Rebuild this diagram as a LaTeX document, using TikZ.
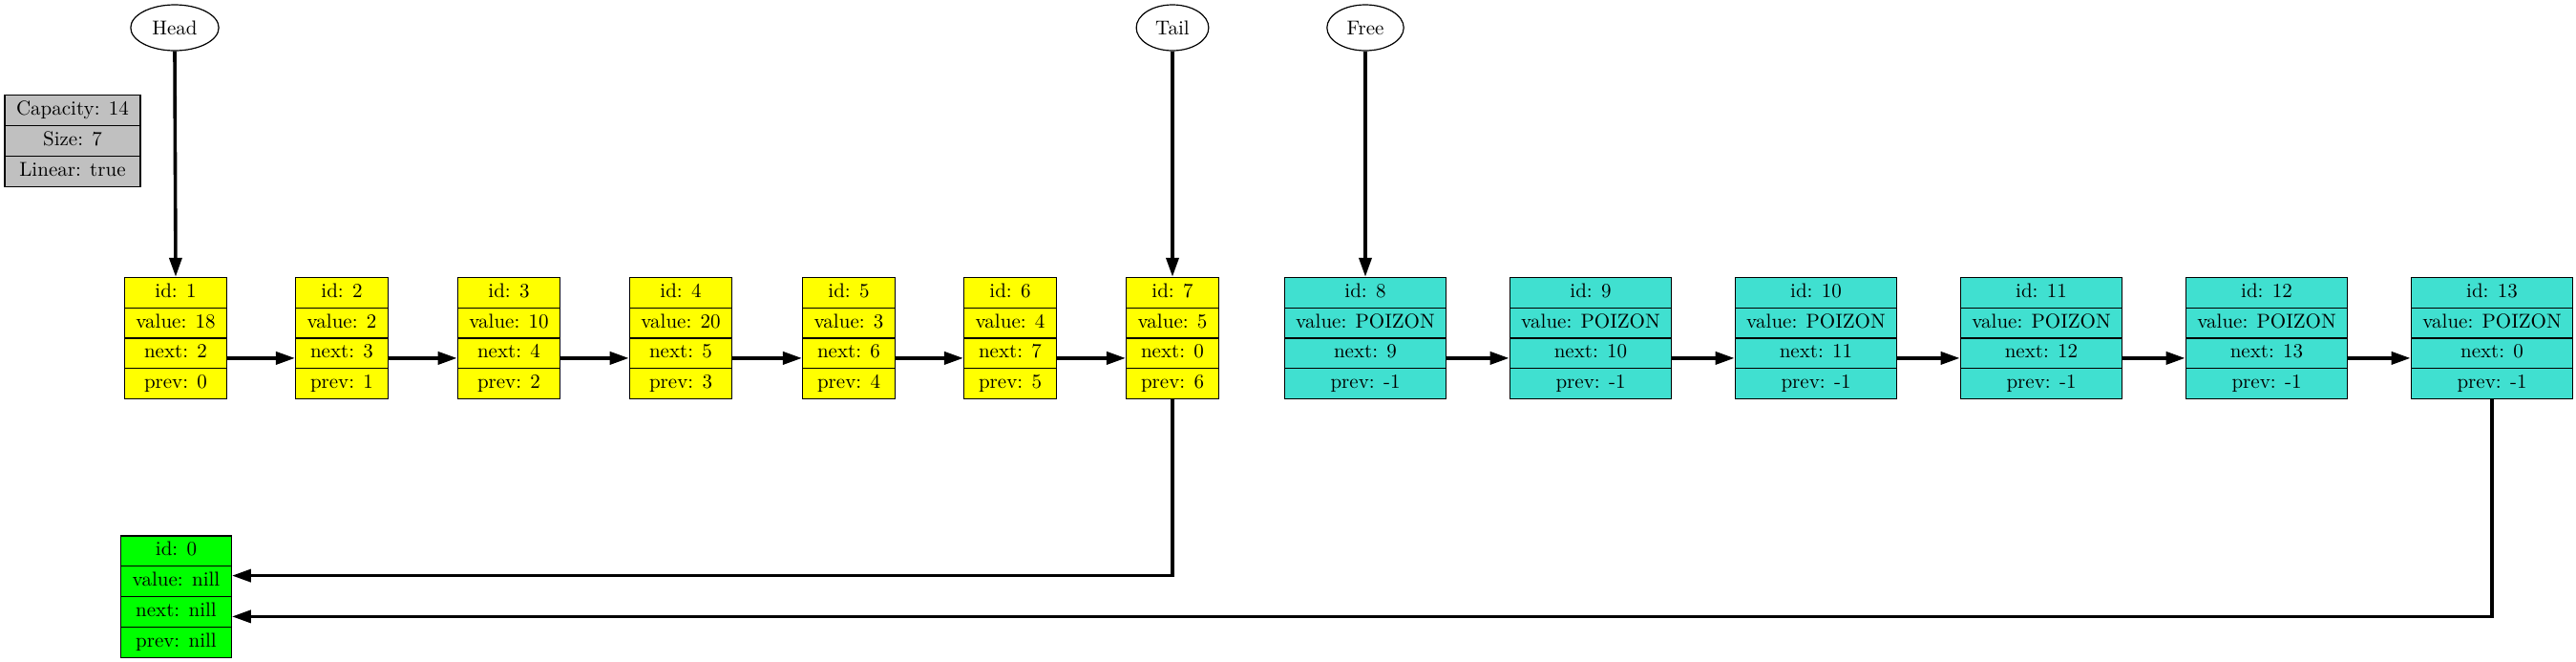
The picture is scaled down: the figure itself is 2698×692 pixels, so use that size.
\documentclass[tikz,border=0pt]{standalone}
\usepackage{xcolor}
\usepackage{tikz}
\usetikzlibrary{shapes.geometric, shapes.multipart, arrows.meta, positioning}
\definecolor{busyyellow}{RGB}{255,255,0}
\definecolor{freeturq}{RGB}{64,224,208}
\definecolor{nullgreen}{RGB}{0,255,0}
\definecolor{infogray}{RGB}{192,192,192}
\newcommand{\fields}[4]{#1\strut\nodepart{two}#2\strut\nodepart{three}#3\strut\nodepart{four}#4\strut}

\begin{document}
\begin{tikzpicture}[
    x=0.5pt, y=-0.5pt,
    font=\fontsize{10.5}{12.6}\selectfont,
    rec/.style={rectangle split, rectangle split parts=4, draw, line width=0.6pt, inner xsep=6pt, inner ysep=1.35pt},
    busycell/.style={rec, fill=busyyellow},
    freecell/.style={rec, fill=freeturq},
    nullcell/.style={rec, fill=nullgreen},
    ptr/.style={ellipse, draw, line width=0.6pt, minimum height=24pt, inner xsep=4.5pt},
    link/.style={line width=1.8pt, -{Triangle[length=10pt,width=6.5pt]}}
]
\useasboundingbox (0,0) rectangle (2698,692);

\node[rectangle split, rectangle split parts=3, draw, line width=0.6pt, fill=infogray, inner xsep=6pt, inner ysep=1.35pt] (info) at (76,147.5)
    {Capacity: 14\strut\nodepart{two}Size: 7\strut\nodepart{three}Linear: true\strut};

\node[ptr] (head) at (183,29) {Head};
\node[ptr] (tail) at (1228,29) {Tail};
\node[ptr] (free) at (1430,29) {Free};

\node[busycell] (n1) at (184,354) {\fields{id: 1}{value: 18}{next: 2}{prev: 0}};
\node[busycell] (n2) at (358,354) {\fields{id: 2}{value: 2}{next: 3}{prev: 1}};
\node[busycell] (n3) at (533,354) {\fields{id: 3}{value: 10}{next: 4}{prev: 2}};
\node[busycell] (n4) at (713,354) {\fields{id: 4}{value: 20}{next: 5}{prev: 3}};
\node[busycell] (n5) at (889,354) {\fields{id: 5}{value: 3}{next: 6}{prev: 4}};
\node[busycell] (n6) at (1058,354) {\fields{id: 6}{value: 4}{next: 7}{prev: 5}};
\node[busycell] (n7) at (1228,354) {\fields{id: 7}{value: 5}{next: 0}{prev: 6}};

\node[freecell] (n8) at (1430,354) {\fields{id: 8}{value: POIZON}{next: 9}{prev: -1}};
\node[freecell] (n9) at (1666,354) {\fields{id: 9}{value: POIZON}{next: 10}{prev: -1}};
\node[freecell] (n10) at (1902,354) {\fields{id: 10}{value: POIZON}{next: 11}{prev: -1}};
\node[freecell] (n11) at (2138,354) {\fields{id: 11}{value: POIZON}{next: 12}{prev: -1}};
\node[freecell] (n12) at (2374,354) {\fields{id: 12}{value: POIZON}{next: 13}{prev: -1}};
\node[freecell] (n13) at (2610,354) {\fields{id: 13}{value: POIZON}{next: 0}{prev: -1}};

\node[nullcell] (n0) at (184.5,624.5) {\fields{id: 0}{value: nill}{next: nill}{prev: nill}};

\draw[link] (head.south) -- (n1.north);
\draw[link] (tail.south) -- (n7.north);
\draw[link] (free.south) -- (n8.north);

\foreach \a/\b in {1/2, 2/3, 3/4, 4/5, 5/6, 6/7, 8/9, 9/10, 10/11, 11/12, 12/13}
    \draw[link] ([yshift=-2.5pt]n\a.three east) -- ([yshift=-2.5pt]n\b.three west);

\draw[link] (n7.south) |- ([yshift=3pt]n0.two east);
\draw[link] (n13.south) |- ([yshift=-2.5pt]n0.three east);
\end{tikzpicture}
\end{document}
